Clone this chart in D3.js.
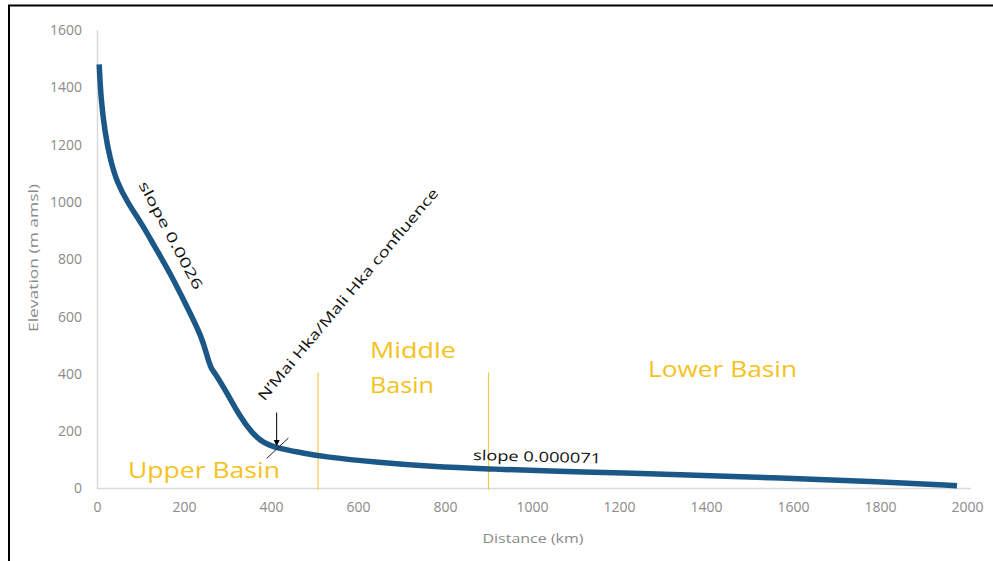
<!DOCTYPE html>
<html><head><meta charset="utf-8">
<script src="https://cdn.jsdelivr.net/npm/d3@7"></script>
<style>body{margin:0;background:#fff}svg{display:block}text{font-family:"Open Sans",sans-serif}</style>
</head><body><svg id="c" width="993" height="561"></svg>
<script>
const distanceKm = [5, 9, 18, 30, 46, 71, 103, 133, 168, 207, 241, 253, 258, 262, 271, 299, 329, 356, 382, 414, 474, 513, 651, 766, 903, 1034, 1225, 1340, 1570, 1800, 1977];
const elevationM = [1480, 1360, 1245, 1150, 1068, 996, 924, 843, 752, 634, 529, 462, 440, 420, 403, 333, 250, 194, 159, 141, 124, 112, 90, 77, 68, 61, 54, 48, 37, 24, 10];
const xTicks = [0, 200, 400, 600, 800, 1000, 1200, 1400, 1600, 1800, 2000];
const yTicks = [0, 200, 400, 600, 800, 1000, 1200, 1400, 1600];
const basinBounds = [508, 900];
const xTitle = "Distance (km)";
const yTitle = "Elevation (m amsl)";

const svg = d3.select("#c");
const x = d3.scaleLinear().domain([0, 2000]).range([97, 967]);
const y = d3.scaleLinear().domain([0, 1600]).range([488.5, 30]);

// frame (cropped screenshot border)
svg.append("line").attr("x1", 8).attr("x2", 993).attr("y1", 5.5).attr("y2", 5.5).attr("stroke", "#000").attr("stroke-width", 2);
svg.append("line").attr("x1", 9).attr("x2", 9).attr("y1", 5).attr("y2", 561).attr("stroke", "#000").attr("stroke-width", 2);

// axes
const xAxis = d3.axisBottom(x).tickValues(xTicks).tickFormat(d3.format("d")).tickSize(0).tickPadding(14);
const gx = svg.append("g").attr("transform", `translate(0,${y(0)})`).call(xAxis);
gx.select(".domain").attr("stroke", "#d9d9d9").attr("stroke-width", 1.5).attr("d", `M${x(0)},0H${x(2010)}`);
gx.selectAll("text").attr("fill", "#8a8a8a").attr("font-size", 14);

const yAxis = d3.axisLeft(y).tickValues(yTicks).tickFormat(d3.format("d")).tickSize(0).tickPadding(15);
const gy = svg.append("g").attr("transform", `translate(${x(0)},0)`).call(yAxis);
gy.select(".domain").attr("stroke", "#d9d9d9").attr("stroke-width", 1.5);
gy.selectAll("text").attr("fill", "#8a8a8a").attr("font-size", 14);

svg.append("text").attr("x", 533).attr("y", 543).attr("text-anchor", "middle")
  .attr("fill", "#8a8a8a").attr("font-size", 13).attr("textLength", 101).attr("lengthAdjust", "spacingAndGlyphs").text(xTitle);
svg.append("text").attr("transform", `translate(38,258) rotate(-90)`).attr("text-anchor", "middle")
  .attr("fill", "#8a8a8a").attr("font-size", 13).attr("textLength", 148).attr("lengthAdjust", "spacingAndGlyphs").text(yTitle);

// basin boundaries
basinBounds.forEach(d => {
  svg.append("line").attr("x1", x(d)).attr("x2", x(d)).attr("y1", y(405)).attr("y2", y(-5))
    .attr("stroke", "#f2c94c").attr("stroke-width", 1.2);
});

// profile line
const line = d3.line().x((d, i) => x(distanceKm[i])).y(d => y(d)).curve(d3.curveBasis);
svg.append("path").datum(elevationM).attr("d", line).attr("fill", "none")
  .attr("stroke", "#1b5887").attr("stroke-width", 5.5).attr("stroke-linecap", "butt").attr("stroke-linejoin", "round");

// basin labels
const gold = "#f5c21b";
svg.append("text").attr("x", 128).attr("y", 478).attr("fill", gold).attr("font-size", 22)
  .attr("textLength", 152).attr("lengthAdjust", "spacingAndGlyphs").text("Upper Basin");
svg.append("text").attr("x", 370).attr("y", 358).attr("fill", gold).attr("font-size", 22)
  .attr("textLength", 86).attr("lengthAdjust", "spacingAndGlyphs").text("Middle");
svg.append("text").attr("x", 370).attr("y", 393).attr("fill", gold).attr("font-size", 22)
  .attr("textLength", 64).attr("lengthAdjust", "spacingAndGlyphs").text("Basin");
svg.append("text").attr("x", 648).attr("y", 377).attr("fill", gold).attr("font-size", 22)
  .attr("textLength", 149).attr("lengthAdjust", "spacingAndGlyphs").text("Lower Basin");

// slope annotations
svg.append("text").attr("transform", `translate(${x(95)},${y(1060)}) rotate(62)`)
  .attr("fill", "#111").attr("font-size", 14).attr("textLength", 120).attr("lengthAdjust", "spacingAndGlyphs").text("slope 0.0026");
svg.append("text").attr("x", 473).attr("y", 460).attr("transform", "rotate(1.5,473,460)").attr("fill", "#111").attr("font-size", 14)
  .attr("textLength", 128).attr("lengthAdjust", "spacingAndGlyphs").text("slope 0.000071");

// confluence annotation
svg.append("text").attr("transform", `translate(${x(385)},${y(303)}) rotate(-50)`)
  .attr("fill", "#111").attr("font-size", 14).attr("textLength", 272).attr("lengthAdjust", "spacingAndGlyphs")
  .text("N\u2019Mai Hka/Mali Hka confluence");

// arrow
const defs = svg.append("defs");
defs.append("marker").attr("id", "ah").attr("viewBox", "0 0 10 10").attr("refX", 9).attr("refY", 5)
  .attr("markerWidth", 6).attr("markerHeight", 6).attr("orient", "auto")
  .append("path").attr("d", "M0,0L10,5L0,10z").attr("fill", "#000");
svg.append("line").attr("x1", x(413)).attr("x2", x(413)).attr("y1", y(265)).attr("y2", y(150))
  .attr("stroke", "#000").attr("stroke-width", 1).attr("marker-end", "url(#ah)");
// confluence tick
svg.append("line").attr("x1", x(390)).attr("y1", y(105)).attr("x2", x(440)).attr("y2", y(176))
  .attr("stroke", "#222").attr("stroke-width", 1);
</script></body></html>
